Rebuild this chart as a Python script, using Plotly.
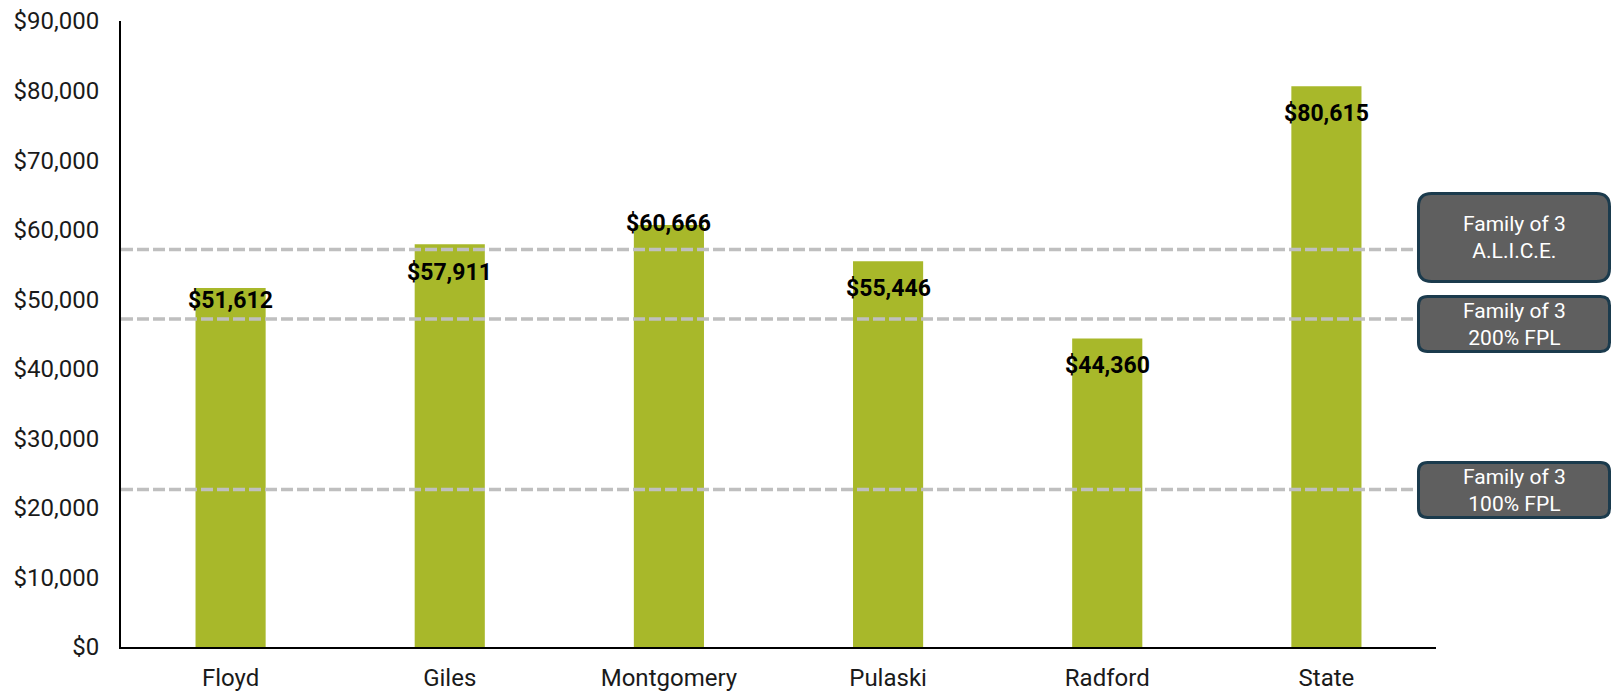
import plotly.graph_objects as go

# Median household income by locality
counties = ["Floyd", "Giles", "Montgomery", "Pulaski", "Radford", "State"]
median_income = [51612, 57911, 60666, 55446, 44360, 80615]

# Reference income thresholds for a family of three
threshold_labels = ["Family of 3<br>A.L.I.C.E.", "Family of 3<br>200% FPL", "Family of 3<br>100% FPL"]
threshold_values = [57140, 47170, 22660]

y_tick_values = list(range(0, 90001, 10000))
y_tick_text = [f"${v:,}" for v in y_tick_values]

# ---- layout geometry (pixels) ----
W, H = 1612, 696
L, R, T, B = 121, 176, 21, 49
PW, PH = W - L - R, H - T - B

BAR_COLOR = "#A8B82A"
BOX_FILL = "#5F5F5F"
BOX_EDGE = "#1B3B4D"
DASH_COLOR = "#BFBFBF"

# vertical nudges (px) for the value labels, relative to each bar's top
label_shift = [-12, -28, 2, -27, -27, -27]

# callout boxes: left, top, right, bottom (px), corner radius
boxes = [
    (1417, 192, 1611, 283, 13),
    (1417, 295, 1611, 353, 9),
    (1417, 461, 1611, 519, 9),
]


def px_x(x):
    return (x - L) / PW


def px_y(y):
    return (H - B - y) / PH


def rounded_rect(x0, y0, x1, y1, r):
    def P(x, y):
        return f"{px_x(x):.5f},{px_y(y):.5f}"

    return (
        f"M {P(x0 + r, y0)} L {P(x1 - r, y0)} Q {P(x1, y0)} {P(x1, y0 + r)} "
        f"L {P(x1, y1 - r)} Q {P(x1, y1)} {P(x1 - r, y1)} "
        f"L {P(x0 + r, y1)} Q {P(x0, y1)} {P(x0, y1 - r)} "
        f"L {P(x0, y0 + r)} Q {P(x0, y0)} {P(x0 + r, y0)} Z"
    )


fig = go.Figure()

fig.add_trace(
    go.Bar(
        x=counties,
        y=median_income,
        marker=dict(color=BAR_COLOR, line=dict(width=0)),
        hoverinfo="skip",
    )
)

shapes = []
annotations = []

# value labels on the bars
for name, val, dy in zip(counties, median_income, label_shift):
    annotations.append(
        dict(
            x=name,
            y=val,
            xref="x",
            yref="y",
            yshift=dy,
            text=f"${val:,}",
            showarrow=False,
            yanchor="middle",
            xanchor="center",
            font=dict(family="Roboto", size=23, color="#000000", weight="bold"),
        )
    )

# dashed threshold lines and their callout boxes
for label, val, (bx0, by0, bx1, by1, rad) in zip(threshold_labels, threshold_values, boxes):
    shapes.append(
        dict(
            type="line",
            xref="paper",
            yref="y",
            x0=0,
            x1=px_x(bx0),
            y0=val,
            y1=val,
            line=dict(color=DASH_COLOR, width=3.5, dash="12px,4px"),
            layer="above",
        )
    )
    inset = 1.5
    shapes.append(
        dict(
            type="path",
            xref="paper",
            yref="paper",
            path=rounded_rect(bx0 + inset, by0 + inset, bx1 - inset, by1 - inset, rad),
            fillcolor=BOX_FILL,
            line=dict(color=BOX_EDGE, width=3),
            layer="above",
        )
    )
    annotations.append(
        dict(
            x=px_x((bx0 + bx1) / 2),
            y=px_y((by0 + by1) / 2),
            xref="paper",
            yref="paper",
            text=label,
            showarrow=False,
            xanchor="center",
            yanchor="middle",
            align="center",
            font=dict(family="Roboto", size=21, color="#FFFFFF"),
        )
    )

fig.update_layout(
    width=W,
    height=H,
    margin=dict(l=L, r=R, t=T, b=B, pad=0, autoexpand=False),
    paper_bgcolor="white",
    plot_bgcolor="white",
    showlegend=False,
    bargap=0.68,
    font=dict(family="Roboto", color="#1A1A1A"),
    shapes=shapes,
    annotations=annotations,
)

fig.update_yaxes(
    range=[0, 90000],
    tickvals=y_tick_values,
    ticktext=y_tick_text,
    showgrid=False,
    zeroline=False,
    showline=True,
    linecolor="#000000",
    linewidth=2,
    ticks="",
    automargin=False,
    ticklabelstandoff=15,
    tickfont=dict(family="Roboto", size=24, color="#1A1A1A"),
)

fig.update_xaxes(
    showgrid=False,
    showline=True,
    linecolor="#000000",
    linewidth=2,
    ticks="",
    automargin=False,
    ticklabelstandoff=8,
    tickfont=dict(family="Roboto", size=24, color="#1A1A1A"),
)

fig.write_html("out.html")
